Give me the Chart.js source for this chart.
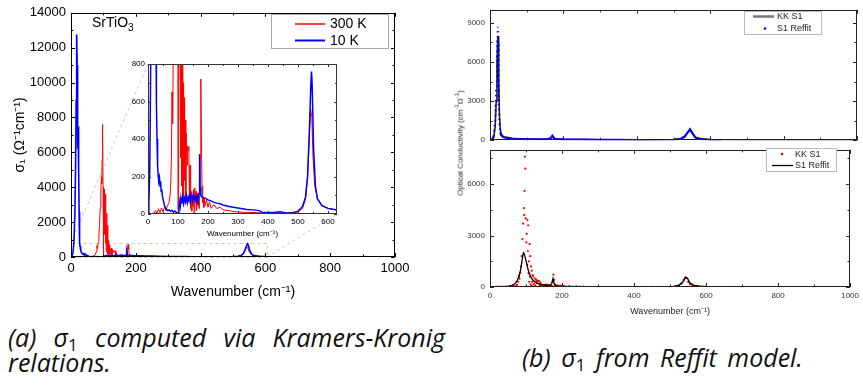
<!DOCTYPE html>
<html>
<head>
<meta charset="utf-8">
<script src="https://cdn.jsdelivr.net/npm/chart.js@4.4.1/dist/chart.umd.min.js"></script>
<style>
  body { margin: 0; width: 863px; height: 385px; background: #fff; position: relative; overflow: hidden; font-family: "Liberation Sans", Arial, sans-serif; }
  .box { position: absolute; }
  #ylabRight { position: absolute; left: 459px; top: 143px; transform: translate(-50%, -50%) rotate(-90deg); font-size: 8px; color: #222; white-space: nowrap; }
  #ylabRight sup { font-size: 6px; }
  .cap { position: absolute; font-family: "Open Sans", sans-serif; font-style: italic; font-size: 25px; color: #111; }
  .cap sub { font-style: normal; font-size: 17px; vertical-align: -4px; line-height: 0; }
  #capA { left: 8px; top: 325px; width: 437px; line-height: 25px; text-align: justify; }
  #capB { left: 522px; top: 340px; white-space: nowrap; word-spacing: 4px; }
</style>
</head>
<body>
<div class="box" id="mainBox" style="left:0;top:0;width:430px;height:310px"><canvas id="mainChart"></canvas></div>
<div class="box" id="insetBox" style="left:118px;top:56px;width:230px;height:190px"><canvas id="insetChart"></canvas></div>
<div class="box" style="left:440px;top:0;width:423px;height:150px"><canvas id="topChart"></canvas></div>
<div class="box" style="left:440px;top:140px;width:423px;height:180px"><canvas id="botChart"></canvas></div>
<div id="ylabRight">Optical Conductivity (cm<sup>-1</sup>Ω<sup>-1</sup>)</div>
<div class="cap" id="capA">(a) σ<sub>1</sub> computed via Kramers-Kronig relations.</div>
<div class="cap" id="capB">(b) σ<sub>1</sub> from Reffit model.</div>
<script>
// sigma_1 from Kramers-Kronig, 300 K  [wavenumber, sigma]
const kk300 = [
  [0,0],[10,2],[20,5],[25,18],[30,4],[35,28],[40,8],[45,32],[50,12],[55,38],[60,18],[65,45],[70,60],[75,120],
  [78,300],[80,650],[82,480],[84,820],[86,1200],[88,1800],[90,2800],[92,3700],[94,4600],[95,4200],[96,5600],
  [97,7600],[98,6900],[99,4000],[100,20],[101,2600],[102,3100],[103,1300],[104,3900],[105,2100],[106,3600],
  [107,800],[108,1500],[109,300],[110,2500],[111,600],[112,1800],[113,150],[114,1200],[115,80],[116,950],
  [117,300],[118,700],[119,40],[120,620],[122,180],[124,500],[126,90],[128,430],[130,260],[132,360],[134,340],
  [136,360],[138,90],[140,260],[142,30],[144,120],[146,15],[148,100],[150,40],[152,130],[154,10],[156,140],
  [158,60],[160,120],[162,20],[164,110],[166,50],[168,90],[170,30],[172,70],[174,300],[176,720],[178,420],
  [180,150],[182,60],[184,90],[186,35],[188,80],[190,45],[195,75],[200,35],[205,65],[210,30],[220,50],[230,28],
  [240,38],[250,22],[260,20],[280,15],[300,10],[350,8],[400,5],[450,5],[500,10],[515,30],[525,80],[532,200],
  [538,420],[542,560],[546,520],[550,300],[556,150],[565,80],[580,45],[600,30],[650,15],[700,10],[800,5],[1000,5]
];
// sigma_1 from Kramers-Kronig, 10 K
const kk10 = [
  [0,0],[3,60],[6,250],[9,800],[12,2500],[14,5000],[16,9000],[17,11500],[18,12750],[19,11000],[20,7200],
  [21,6200],[22,7300],[23,7500],[24,5200],[25,2600],[26,1300],[27,850],[28,600],[30,400],[32,260],[34,200],
  [36,180],[38,195],[40,150],[42,175],[44,120],[46,130],[48,95],[50,80],[55,45],[60,28],[65,18],[70,22],
  [75,14],[80,20],[85,10],[90,16],[95,8],[100,5],[103,40],[106,70],[108,45],[110,85],[113,55],[116,90],
  [119,60],[122,85],[125,65],[128,95],[131,60],[134,90],[137,70],[140,100],[143,75],[146,95],[149,70],
  [152,100],[155,80],[158,95],[161,70],[164,90],[167,65],[170,110],[172,320],[174,140],[176,100],[180,90],
  [190,85],[200,75],[210,70],[220,62],[230,58],[240,55],[250,48],[270,40],[300,32],[330,24],[350,22],
  [370,18],[380,10],[400,8],[420,8],[440,12],[460,5],[480,6],[500,15],[515,40],[525,90],[532,200],[538,450],
  [543,700],[545,760],[547,700],[552,350],[558,150],[565,80],[580,45],[600,30],[650,15],[700,10],[800,5],[1000,5]
];
// panel (b), top: KK S1 and Reffit at 10 K
const kkS1Top = [
  [0,0],[5,20],[10,200],[14,1000],[17,3000],[19,6000],[21,7800],[22,8000],[23,7000],[24,4500],[26,1800],
  [28,900],[30,500],[35,300],[40,250],[50,200],[60,150],[80,100],[100,80],[120,70],[150,70],[165,150],
  [170,300],[175,150],[185,80],[200,60],[300,40],[400,20],[500,50],[520,120],[530,300],[538,600],[545,820],
  [552,550],[560,200],[575,80],[600,30],[650,10],[700,5],[800,0],[1000,0]
];
const reffitTop = [
  [0,0],[5,30],[10,300],[14,1500],[17,4000],[19,6500],[20,7800],[21,8700],[22,7500],[23,5200],[24,3000],
  [26,1200],[28,600],[30,400],[35,250],[40,200],[50,150],[60,120],[80,100],[100,80],[120,70],[140,70],
  [160,90],[165,150],[170,350],[173,200],[176,120],[180,80],[190,70],[200,60],[250,50],[300,40],[350,30],
  [400,20],[450,20],[500,40],[520,100],[530,250],[538,550],[545,850],[552,500],[560,200],[575,90],[600,40],[630,20]
];
// panel (b), bottom: Reffit at 300 K (KK S1 dots are kk300)
const reffitBot = [
  [0,0],[20,0],[40,10],[50,30],[60,80],[70,200],[75,350],[80,600],[85,1000],[88,1400],[91,1850],[93,2000],
  [95,1950],[98,1700],[102,1350],[106,1000],[110,750],[115,520],[120,380],[130,230],[140,160],[150,120],
  [160,100],[168,110],[172,250],[175,500],[178,200],[182,80],[190,50],[200,40],[250,20],[300,15],[400,10],
  [480,15],[510,40],[525,110],[535,280],[541,480],[545,560],[549,480],[555,250],[565,110],[580,45],[600,25],
  [650,10],[700,5],[800,0],[1000,0]
];

const xTicksMain = [0, 200, 400, 600, 800, 1000];
const yTicksTop = [0, 3000, 6000, 9000];
const yTicksBot = [0, 3000, 6000];

Chart.defaults.font.family = '"Liberation Sans", Arial, sans-serif';
Chart.defaults.animation = false;
Chart.defaults.events = [];
Chart.defaults.plugins.legend.display = false;
Chart.defaults.plugins.tooltip.enabled = false;

const pts = arr => arr.map(p => ({ x: p[0], y: p[1] }));
const plain = v => String(v);
const fixedTicks = list => s => { s.ticks = list.map(v => ({ value: v })); };

// box + inward ticks, Origin style
const frame = {
  id: 'frame',
  beforeDatasetsDraw(chart, args, o) {
    if (!o.fill) return;
    const a = chart.chartArea, ctx = chart.ctx;
    ctx.save();
    ctx.fillStyle = o.fill;
    ctx.fillRect(a.left, a.top, a.width, a.height);
    ctx.restore();
  },
  afterDatasetsDraw(chart, args, o) {
    if (!o.minorX) return;
    const { ctx, chartArea: a, scales: { x, y } } = chart;
    const isMajor = (v, m) => Math.abs(v / m - Math.round(v / m)) < 1e-6;
    const sides = o.sides || 'lrtb';
    ctx.save();
    ctx.strokeStyle = o.color || '#000';
    ctx.lineWidth = 1;
    ctx.beginPath();
    for (let v = x.min; v <= x.max + 1e-6; v += o.minorX) {
      const p = Math.round(x.getPixelForValue(v)) + 0.5;
      const len = isMajor(v, o.majorX) ? o.major : o.minor;
      if (sides.includes('b')) { ctx.moveTo(p, a.bottom); ctx.lineTo(p, a.bottom - len); }
      if (sides.includes('t')) { ctx.moveTo(p, a.top); ctx.lineTo(p, a.top + len); }
    }
    for (let v = y.min; v <= y.max + 1e-6; v += o.minorY) {
      const p = Math.round(y.getPixelForValue(v)) + 0.5;
      const len = isMajor(v, o.majorY) ? o.major : o.minor;
      if (sides.includes('l')) { ctx.moveTo(a.left, p); ctx.lineTo(a.left + len, p); }
      if (sides.includes('r')) { ctx.moveTo(a.right, p); ctx.lineTo(a.right - len, p); }
    }
    ctx.stroke();
    ctx.strokeRect(Math.round(a.left) + 0.5, Math.round(a.top) + 0.5, Math.round(a.width) - 1, Math.round(a.height) - 1);
    ctx.restore();
  }
};

// framed legend inside the plot
const boxLegend = {
  id: 'boxLegend',
  afterDraw(chart, args, o) {
    if (!o.items) return;
    const ctx = chart.ctx;
    const [bx, by, bw, bh] = o.box;
    ctx.save();
    ctx.fillStyle = '#fff';
    ctx.fillRect(bx, by, bw, bh);
    ctx.strokeStyle = o.boxColor || '#999';
    ctx.lineWidth = 1;
    ctx.strokeRect(bx + 0.5, by + 0.5, bw, bh);
    ctx.font = o.size + 'px "Liberation Sans", Arial, sans-serif';
    ctx.textBaseline = 'middle';
    o.items.forEach(it => {
      const ds = chart.data.datasets[it.ds];
      const col = it.color || ds.borderColor;
      if (it.kind === 'dot') {
        ctx.fillStyle = col;
        ctx.beginPath();
        ctx.arc(it.dotX, it.y, 1.3, 0, Math.PI * 2);
        ctx.fill();
      } else {
        ctx.strokeStyle = col;
        ctx.lineWidth = it.width || 2;
        ctx.beginPath();
        ctx.moveTo(o.lineX[0], it.y);
        ctx.lineTo(o.lineX[1], it.y);
        ctx.stroke();
      }
      ctx.fillStyle = o.textColor || '#000';
      ctx.fillText(ds.label, o.textX, it.y + 0.5);
    });
    ctx.restore();
  }
};

Chart.register(frame, boxLegend);

// ---------- inset (created first so the main chart can point at it)
const insetChart = new Chart(document.getElementById('insetChart'), {
  type: 'line',
  data: {
    datasets: [
      { label: '10 K', data: pts(kk10), borderColor: '#0000ff', borderWidth: 1.5, pointRadius: 0, order: 0 },
      { label: '300 K', data: pts(kk300), borderColor: '#ff0000', borderWidth: 1, pointRadius: 0, order: 1 }
    ]
  },
  options: {
    responsive: true, maintainAspectRatio: false,
    layout: { padding: { top: 8, right: 11, left: 0, bottom: 0 } },
    plugins: {
      frame: { fill: '#fff', majorX: 100, minorX: 50, majorY: 200, minorY: 100, major: 3, minor: 2, color: '#333' }
    },
    scales: {
      x: {
        type: 'linear', min: 0, max: 630,
        afterFit: s => { s.height = 32; },
        ticks: { stepSize: 100, includeBounds: false, color: '#000', font: { size: 8 }, padding: 3, maxRotation: 0, callback: plain },
        grid: { display: false, drawTicks: false }, border: { display: false },
        title: { display: true, text: 'Wavenumber (cm⁻¹)', color: '#000', font: { size: 8 }, padding: { top: 0, bottom: 7 } }
      },
      y: {
        min: 0, max: 800,
        afterFit: s => { s.width = 30; },
        ticks: { stepSize: 200, color: '#000', font: { size: 8 }, padding: 3, callback: plain },
        grid: { display: false, drawTicks: false }, border: { display: false }
      }
    }
  }
});

// ---------- main chart (a)
const zoomLines = {
  id: 'zoomLines',
  beforeDatasetsDraw(chart, args, o) {
    const { ctx, scales: { x, y } } = chart;
    const box = document.getElementById('insetBox');
    const ia = insetChart.chartArea;
    const ox = box.offsetLeft, oy = box.offsetTop;
    const x0 = x.getPixelForValue(o.x[0]), x1 = x.getPixelForValue(o.x[1]);
    const y0 = y.getPixelForValue(o.y[0]), y1 = y.getPixelForValue(o.y[1]);
    ctx.save();
    ctx.strokeStyle = '#c8c8c8';
    ctx.lineWidth = 1;
    ctx.setLineDash([3, 3]);
    ctx.strokeRect(x0 + 0.5, y1 + 0.5, x1 - x0, y0 - y1);
    ctx.beginPath();
    ctx.moveTo(x0, y1); ctx.lineTo(ox + ia.left, oy + ia.top);
    ctx.moveTo(x1, y0); ctx.lineTo(ox + ia.right, oy + ia.bottom);
    ctx.stroke();
    ctx.restore();
  },
  afterDraw(chart) {
    const ctx = chart.ctx;
    ctx.save();
    ctx.fillStyle = '#000';
    ctx.font = '14px "Liberation Sans", Arial, sans-serif';
    ctx.textBaseline = 'alphabetic';
    ctx.fillText('SrTiO', 92, 27);
    const w = ctx.measureText('SrTiO').width;
    ctx.font = '10px "Liberation Sans", Arial, sans-serif';
    ctx.fillText('3', 92 + w, 31);
    ctx.restore();
  }
};

const mainChart = new Chart(document.getElementById('mainChart'), {
  type: 'line',
  data: {
    datasets: [
      { label: '300 K', data: pts(kk300), borderColor: '#ff0000', borderWidth: 1, pointRadius: 0, order: 1 },
      { label: '10 K', data: pts(kk10), borderColor: '#0000ff', borderWidth: 1.6, pointRadius: 0, order: 0 }
    ]
  },
  options: {
    responsive: true, maintainAspectRatio: false,
    layout: { padding: { top: 10, right: 35, left: 0, bottom: 0 } },
    plugins: {
      zoomLines: { x: [0, 605], y: [0, 800] },
      frame: { majorX: 200, minorX: 100, majorY: 2000, minorY: 1000, major: 4, minor: 2.5 },
      boxLegend: {
        box: [271, 14, 117, 34], boxColor: '#aaa', size: 14,
        lineX: [295, 325], textX: 330,
        items: [{ ds: 0, y: 24, width: 1.5 }, { ds: 1, y: 40.5, width: 2 }]
      }
    },
    scales: {
      x: {
        type: 'linear', min: 0, max: 1000,
        afterFit: s => { s.height = 53; },
        afterBuildTicks: fixedTicks(xTicksMain),
        ticks: { color: '#000', font: { size: 13 }, padding: 4, maxRotation: 0, callback: plain },
        grid: { display: false, drawTicks: false }, border: { display: false },
        title: { display: true, text: 'Wavenumber (cm⁻¹)', color: '#000', font: { size: 14 }, padding: { top: 0, bottom: 9 } }
      },
      y: {
        min: 0, max: 14000,
        afterFit: s => { s.width = 71; },
        ticks: { stepSize: 2000, color: '#000', font: { size: 13 }, padding: 5, callback: plain },
        grid: { display: false, drawTicks: false }, border: { display: false },
        title: { display: true, text: 'σ₁ (Ω⁻¹cm⁻¹)', color: '#000', font: { size: 14 }, padding: { top: 12, bottom: 0 } }
      }
    }
  },
  plugins: [zoomLines]
});

// ---------- panel (b) top, 10 K
const steepDash = ctx => Math.abs(ctx.p1.y - ctx.p0.y) > 6 ? [1.5, 3.5] : undefined;
const jumpHide = ctx => Math.abs(ctx.p1.y - ctx.p0.y) > 3 ? 'rgba(0,0,0,0)' : undefined;

new Chart(document.getElementById('topChart'), {
  type: 'line',
  data: {
    datasets: [
      { label: 'KK S1', data: pts(kkS1Top), borderColor: '#222', borderWidth: 1.6, pointRadius: 0, order: 1 },
      { label: 'S1 Reffit', data: pts(reffitTop), borderColor: '#0000ff', borderWidth: 2, pointRadius: 0, order: 0,
        segment: { borderDash: steepDash } }
    ]
  },
  options: {
    responsive: true, maintainAspectRatio: false,
    layout: { padding: { top: 7, right: 6, left: 0, bottom: 3 } },
    plugins: {
      frame: { majorX: 200, minorX: 100, majorY: 3000, minorY: 1500, major: 4, minor: 2.5, color: '#222' },
      boxLegend: {
        box: [304, 11, 77, 23], boxColor: '#bbb', size: 9, textColor: '#222',
        lineX: [313, 334], textX: 337,
        items: [{ ds: 0, y: 16.5, width: 2.5, color: '#777' }, { ds: 1, y: 28.5, kind: 'dot', dotX: 325 }]
      }
    },
    scales: {
      x: { type: 'linear', min: 0, max: 1000, display: false },
      y: {
        min: 0, max: 10000,
        afterFit: s => { s.width = 50; },
        afterBuildTicks: fixedTicks(yTicksTop),
        ticks: { color: '#333', font: { size: 8 }, padding: 5, callback: plain },
        grid: { display: false, drawTicks: false }, border: { display: false }
      }
    }
  }
});

// ---------- panel (b) bottom, 300 K
new Chart(document.getElementById('botChart'), {
  type: 'line',
  data: {
    datasets: [
      { label: 'KK S1', data: pts(kk300), borderColor: '#ff0000', backgroundColor: '#ff0000', borderWidth: 1,
        pointRadius: 1.1, pointBorderWidth: 0, order: 1, segment: { borderColor: jumpHide } },
      { label: 'S1 Reffit', data: pts(reffitBot), borderColor: '#000', borderWidth: 1.3, pointRadius: 0, order: 0 }
    ]
  },
  options: {
    responsive: true, maintainAspectRatio: false,
    layout: { padding: { top: 7, right: 6, left: 0, bottom: 0 } },
    plugins: {
      frame: { majorX: 200, minorX: 100, majorY: 3000, minorY: 1500, major: 4, minor: 2.5, color: '#222' },
      boxLegend: {
        box: [326, 8, 70, 23], boxColor: '#bbb', size: 9, textColor: '#222',
        lineX: [332, 353], textX: 355,
        items: [{ ds: 0, y: 14, kind: 'dot', dotX: 342 }, { ds: 1, y: 25.5, width: 1.3 }]
      }
    },
    scales: {
      x: {
        type: 'linear', min: 0, max: 1000,
        afterFit: s => { s.height = 33; },
        afterBuildTicks: fixedTicks(xTicksMain),
        ticks: { color: '#333', font: { size: 8 }, padding: 4, maxRotation: 0, callback: plain },
        grid: { display: false, drawTicks: false }, border: { display: false },
        title: { display: true, text: 'Wavenumber (cm⁻¹)', color: '#222', font: { size: 9 }, padding: { top: 0, bottom: 3 } }
      },
      y: {
        min: 0, max: 8000,
        afterFit: s => { s.width = 50; },
        afterBuildTicks: fixedTicks(yTicksBot),
        ticks: { color: '#333', font: { size: 8 }, padding: 5, callback: plain },
        grid: { display: false, drawTicks: false }, border: { display: false }
      }
    }
  }
});
</script>
</body>
</html>
